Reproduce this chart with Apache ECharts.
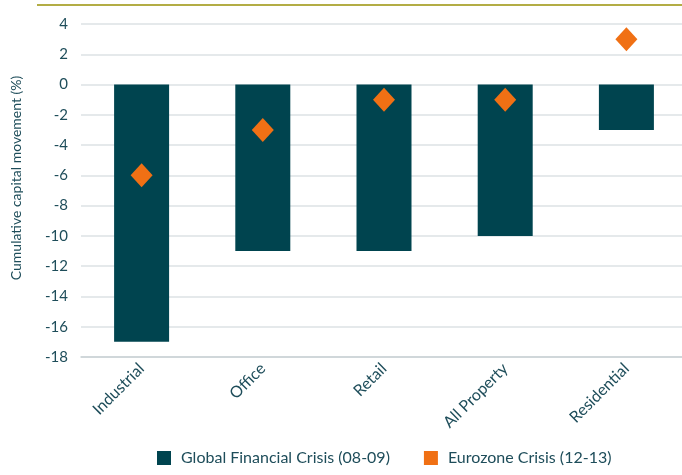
<!DOCTYPE html>
<html><head><meta charset="utf-8">
<script src="https://cdn.jsdelivr.net/npm/echarts@6/dist/echarts.min.js"></script>
<style>html,body{margin:0;padding:0;background:#fff;overflow:hidden}#c{width:687px;height:475px}</style>
</head><body><div id="c"></div>
<script>
const categories = ['Industrial','Office','Retail','All Property','Residential'];
const gfcValues = [-17,-11,-11,-10,-3];
const eurozoneValues = [-6,-3,-1,-1,3];
const yTicks = {min:-18,max:4,interval:2};
const txt = '#1e4d5a';
const font = 'Lato';
const chart = echarts.init(document.getElementById('c'));
chart.setOption({
  animation:false,
  textStyle:{fontFamily:font,color:txt},
  graphic:[{type:'line',shape:{x1:37,y1:5,x2:687,y2:5},style:{stroke:'#b3ad45',lineWidth:2}}],
  grid:{left:81,top:24,right:0,bottom:118,containLabel:false},
  legend:{bottom:4,left:152,itemGap:34,itemWidth:14,itemHeight:14,icon:'rect',
    textStyle:{fontFamily:font,fontSize:16,color:txt,padding:[0,0,0,5]},
    data:['Global Financial Crisis (08-09)','Eurozone Crisis (12-13)']},
  xAxis:{type:'category',data:categories,
    axisLine:{onZero:false,lineStyle:{color:'#c9d1d5',width:1.5}},
    axisTick:{show:false},
    axisLabel:{rotate:45,fontFamily:font,fontSize:16,color:txt,margin:9,interval:0}},
  yAxis:{type:'value',min:yTicks.min,max:yTicks.max,interval:yTicks.interval,
    name:'Cumulative capital movement (%)',nameLocation:'middle',nameGap:58,
    nameTextStyle:{fontFamily:font,fontSize:14,color:txt,padding:[0,0,0,25]},
    axisLine:{show:false},axisTick:{show:false},
    axisLabel:{fontFamily:font,fontSize:15,color:txt,margin:13},
    splitLine:{lineStyle:{color:'#dde2e5',width:1.5}}},
  series:[
    {name:'Global Financial Crisis (08-09)',type:'bar',data:gfcValues,barWidth:55,itemStyle:{color:'#00444f'}},
    {name:'Eurozone Crisis (12-13)',type:'scatter',data:eurozoneValues,symbol:'diamond',symbolSize:[22,24],itemStyle:{color:'#f07014',opacity:1},z:5}
  ]
});
</script></body></html>
